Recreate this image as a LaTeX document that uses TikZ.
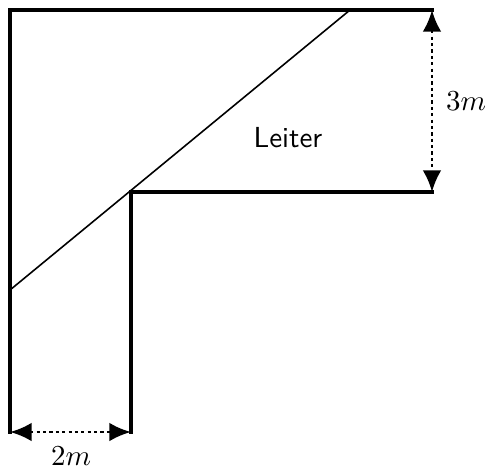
\documentclass[tikz,border=0pt]{standalone}
\usetikzlibrary{arrows.meta}
\begin{document}
\begin{tikzpicture}[x=0.345pt,y=-0.345pt,
  wall/.style={line width=1.5pt, line cap=rect},
  ladder/.style={line width=0.55pt},
  dimline/.style={line width=1pt, dash pattern=on 1.1pt off 1.1pt, {Latex[length=7.5pt,width=6.5pt]}-{Latex[length=7.5pt,width=6.5pt]}},
  lbl/.style={inner sep=1pt}]
\useasboundingbox (0,0) rectangle (490,468);
\coordinate (tl) at (10,10);
\coordinate (tr) at (432,10);
\coordinate (bl) at (10,432);
\coordinate (c) at (131,192);
\coordinate (cr) at (432,192);
\coordinate (cb) at (131,432);
\coordinate (la) at (10,290);
\coordinate (lb) at (350,10);
\draw[wall] (bl) -- (tl) -- (tr);
\draw[wall] (cb) -- (c) -- (cr);
\draw[ladder] (la) -- (lb);
\draw[dimline] (tr) -- (cr);
\draw[dimline] (bl) -- (cb);
\node[lbl] (h) at (466,101) {$3m$};
\node[lbl] (w) at (71,456) {$2m$};
\node[lbl] (l) at (288,138) {\sffamily Leiter};
\end{tikzpicture}
\end{document}
